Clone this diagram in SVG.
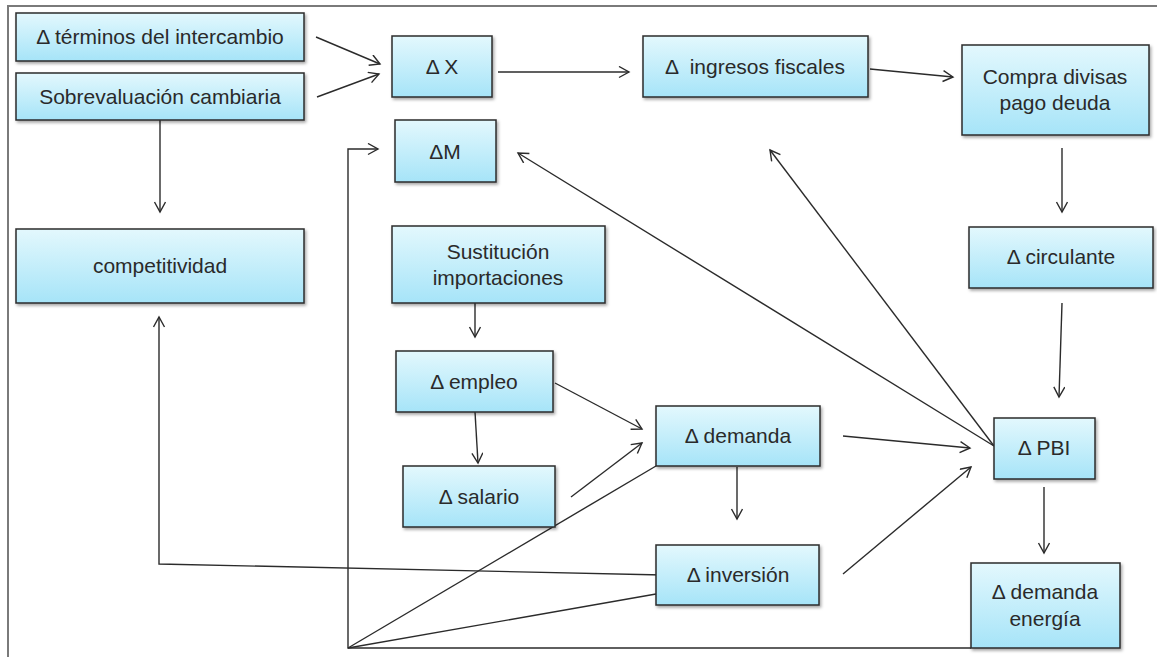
<svg xmlns="http://www.w3.org/2000/svg" width="1157" height="657" viewBox="0 0 1157 657">
<style>
.box{fill:url(#g);stroke:#2b2b2b;stroke-width:1.5;filter:url(#sh)}
.t{font-family:"Liberation Sans",Arial,sans-serif;font-size:21px;fill:#2a2a2a;text-anchor:middle}
.c{fill:none;stroke:#2b2b2b;stroke-width:1.4}
.a{marker-end:url(#ar)}
</style>
<defs>
<linearGradient id="g" x1="0" y1="0" x2="0" y2="1">
<stop offset="0" stop-color="#e3f8fd"/>
<stop offset="1" stop-color="#a6e4f8"/>
</linearGradient>
<filter id="sh" x="-10%" y="-10%" width="130%" height="140%">
<feDropShadow dx="1.5" dy="2" stdDeviation="1.5" flood-color="#000" flood-opacity="0.35"/>
</filter>
<marker id="ar" markerWidth="14" markerHeight="14" refX="11" refY="6" orient="auto" markerUnits="userSpaceOnUse">
<path d="M1,0.5 L11,6 L1,11.5" fill="none" stroke="#2b2b2b" stroke-width="1.4"/>
</marker>
</defs>
<rect width="1157" height="657" fill="#fff"/>
<path d="M8,657 L8,6 L1157,6" fill="none" stroke="#7a7a7a" stroke-width="2"/>

<g id="connectors">
<path class="c a" d="M316,37 L380,64"/>
<path class="c a" d="M317,97 L379,74"/>
<path class="c a" d="M160,120 L160,212"/>
<path class="c a" d="M663,575 L159,564 L159,317"/>
<path class="c a" d="M498,72 L629,72"/>
<path class="c a" d="M870,69 L953,77"/>
<path class="c a" d="M1062,148 L1062,212"/>
<path class="c a" d="M1062,303 L1059,397"/>
<path class="c a" d="M994,446 L518,153"/>
<path class="c a" d="M994,446 L770,150"/>
<path class="c a" d="M475,303 L475,337"/>
<path class="c a" d="M555,383 L642,429"/>
<path class="c a" d="M475,412 L478,463"/>
<path class="c a" d="M571,497 L642,443"/>
<path class="c a" d="M737,467 L737,519"/>
<path class="c a" d="M843,436 L970,448"/>
<path class="c a" d="M843,574 L971,467"/>
<path class="c a" d="M1044,487 L1044,553"/>
<path class="c a" d="M971,648 L348,648 L348,149 L378,149"/>
<path class="c" d="M656,466 L348,648"/>
<path class="c" d="M656,594 L348,648"/>
</g>

<g id="n-terminos"><rect class="box" x="16" y="13" width="288" height="48"/><text class="t" x="160" y="44">Δ términos del intercambio</text></g>
<g id="n-sobrevaluacion"><rect class="box" x="16" y="73" width="288" height="47"/><text class="t" x="160" y="104">Sobrevaluación cambiaria</text></g>
<g id="n-x"><rect class="box" x="392" y="36" width="100" height="61"/><text class="t" x="442" y="74">Δ X</text></g>
<g id="n-m"><rect class="box" x="395" y="120" width="101" height="62"/><text class="t" x="445" y="159">ΔM</text></g>
<g id="n-ingresos"><rect class="box" x="643" y="36" width="225" height="61"/><text class="t" x="755" y="74" xml:space="preserve">Δ  ingresos fiscales</text></g>
<g id="n-compra"><rect class="box" x="962" y="45" width="187" height="90"/><text class="t" x="1055" y="84">Compra divisas</text><text class="t" x="1055" y="110">pago deuda</text></g>
<g id="n-competitividad"><rect class="box" x="16" y="229" width="288" height="74"/><text class="t" x="160" y="273">competitividad</text></g>
<g id="n-sustitucion"><rect class="box" x="392" y="226" width="213" height="77"/><text class="t" x="498" y="259">Sustitución</text><text class="t" x="498" y="285">importaciones</text></g>
<g id="n-empleo"><rect class="box" x="396" y="351" width="157" height="61"/><text class="t" x="474" y="389">Δ empleo</text></g>
<g id="n-circulante"><rect class="box" x="969" y="227" width="184" height="61"/><text class="t" x="1061" y="264">Δ circulante</text></g>
<g id="n-demanda"><rect class="box" x="656" y="406" width="164" height="60"/><text class="t" x="738" y="443">Δ demanda</text></g>
<g id="n-salario"><rect class="box" x="403" y="466" width="152" height="61"/><text class="t" x="479" y="504">Δ salario</text></g>
<g id="n-inversion"><rect class="box" x="656" y="545" width="163" height="60"/><text class="t" x="738" y="582">Δ inversión</text></g>
<g id="n-pbi"><rect class="box" x="994" y="418" width="101" height="61"/><text class="t" x="1044" y="455">Δ PBI</text></g>
<g id="n-energia"><rect class="box" x="971" y="563" width="149" height="85"/><text class="t" x="1045" y="599">Δ demanda</text><text class="t" x="1045" y="626">energía</text></g>
</svg>
